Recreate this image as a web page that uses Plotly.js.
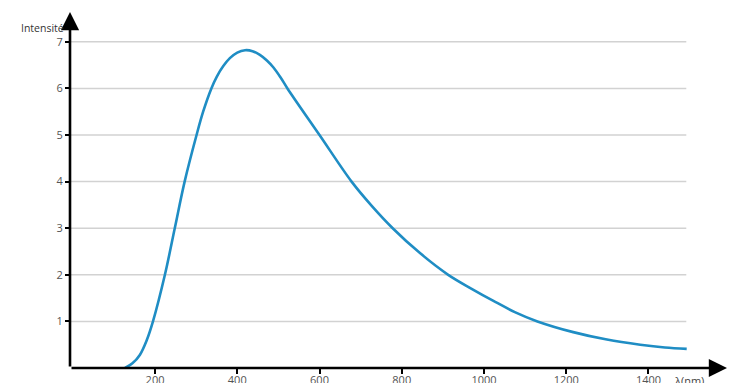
<!DOCTYPE html>
<html>
<head>
<meta charset="utf-8">
<script src="https://cdn.plot.ly/plotly-3.0.1.min.js"></script>
<style>html,body{margin:0;padding:0;background:#fff;}#chart{width:739px;height:383px;}</style>
</head>
<body>
<div id="chart"></div>
<script>
// Data
const wavelength = [127, 145, 163, 180, 195, 224, 248, 272, 301, 317, 337, 350, 366, 382, 400, 419, 437, 455, 472, 488, 505, 522, 600, 678, 727, 778, 845, 913, 970, 1023, 1075, 1130, 1217, 1299, 1380, 1440, 1493];
const intensity  = [0, 0.1, 0.28, 0.6, 1.0, 2.0, 3.0, 4.0, 5.0, 5.5, 6.0, 6.25, 6.48, 6.65, 6.77, 6.82, 6.80, 6.72, 6.6, 6.45, 6.24, 6.0, 5.0, 4.0, 3.48, 3.0, 2.46, 2.0, 1.70, 1.44, 1.2, 1.0, 0.77, 0.61, 0.5, 0.44, 0.41];
const xTicks = [200, 400, 600, 800, 1000, 1200, 1400];
const yTicks = [1, 2, 3, 4, 5, 6, 7];
const xLabel = "λ(nm)";
const yLabel = "Intensité";

const xMin = -6.8, xMax = 1591, gridEnd = 1492;
const yMin = 0, yMax = 7.64;

const trace = {
  x: wavelength, y: intensity, type: 'scatter', mode: 'lines',
  line: {color: '#1f8dc4', width: 2.6, shape: 'spline', smoothing: 1},
  hoverinfo: 'skip', cliponaxis: false
};

const shapes = yTicks.map(v => ({
  type: 'line', xref: 'x', yref: 'y', x0: xMin, x1: gridEnd, y0: v, y1: v,
  line: {color: '#d2d2d2', width: 1.5}, layer: 'below'
}));

const annotations = [
  {xref: 'x', yref: 'y', axref: 'x', ayref: 'y', x: xMax, y: 0, ax: xMin, ay: 0,
   showarrow: true, arrowhead: 2, arrowsize: 1.4, arrowwidth: 2.6, arrowcolor: '#000', text: ''},
  {xref: 'x', yref: 'y', axref: 'x', ayref: 'y', x: xMin, y: yMax, ax: xMin, ay: 0,
   showarrow: true, arrowhead: 2, arrowsize: 1.4, arrowwidth: 2.6, arrowcolor: '#000', text: ''},
  {xref: 'x', yref: 'y', x: xMin, y: 7.29, xanchor: 'right', yanchor: 'middle', xshift: -4,
   showarrow: false, text: yLabel, font: {family: 'Open Sans, sans-serif', size: 10.5, color: '#333'}},
  {xref: 'x', yref: 'y', x: 1499, y: 0, xanchor: 'center', yanchor: 'top', yshift: -3,
   showarrow: false, text: xLabel, font: {family: 'Open Sans, sans-serif', size: 11, color: '#444'}}
];

const layout = {
  width: 739, height: 383,
  margin: {l: 70, r: 12, t: 12, b: 15, pad: 0},
  paper_bgcolor: '#fff', plot_bgcolor: '#fff',
  showlegend: false,
  xaxis: {range: [xMin, xMax], tickvals: xTicks, ticktext: xTicks.map(String),
    showgrid: false, zeroline: false, showline: false,
    ticks: 'outside', ticklen: 5, tickwidth: 2, tickcolor: '#000', ticklabelstandoff: -3,
    tickfont: {family: 'Open Sans, sans-serif', size: 11, color: '#555'}, automargin: false},
  yaxis: {range: [yMin, yMax], tickvals: yTicks, ticktext: yTicks.map(String),
    showgrid: false, zeroline: false, showline: false,
    ticks: 'outside', ticklen: 4, tickwidth: 2, tickcolor: '#000',
    tickfont: {family: 'Open Sans, sans-serif', size: 11, color: '#555'}, automargin: false},
  shapes: shapes,
  annotations: annotations
};

Plotly.newPlot('chart', [trace], layout, {staticPlot: true, displayModeBar: false});
</script>
</body>
</html>
